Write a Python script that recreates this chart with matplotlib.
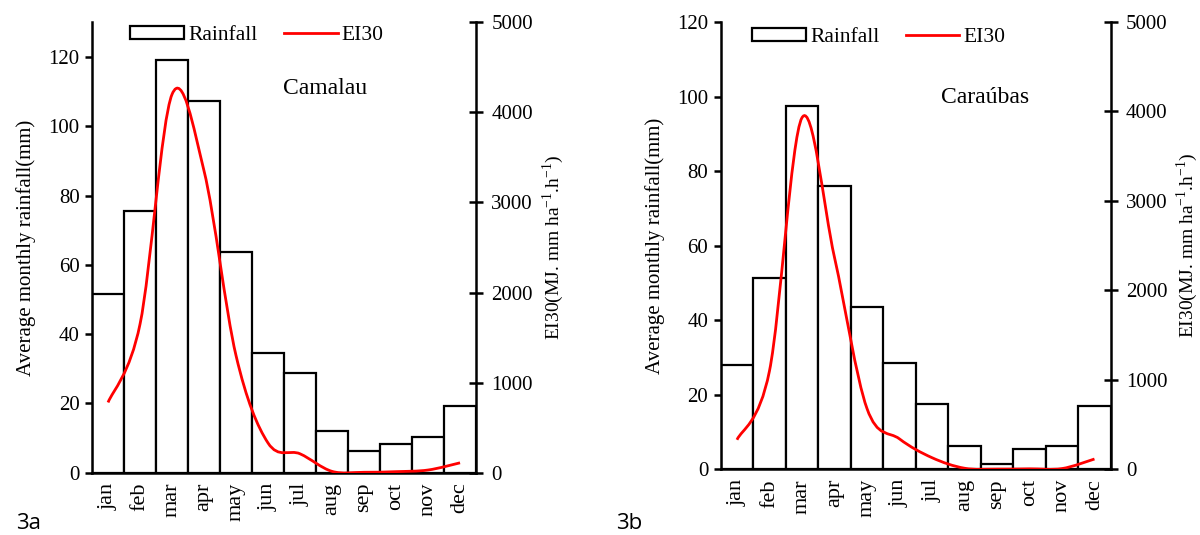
import numpy as np
import matplotlib.pyplot as plt
from matplotlib.path import Path
from matplotlib.patches import PathPatch, Patch
from matplotlib.lines import Line2D

plt.rcParams['font.family'] = ['Liberation Serif', 'DejaVu Serif']
plt.rcParams['mathtext.fontset'] = 'custom'
plt.rcParams['mathtext.rm'] = 'Liberation Serif'

months = ['jan', 'feb', 'mar', 'apr', 'may', 'jun',
          'jul', 'aug', 'sep', 'oct', 'nov', 'dec']

camalau_rain = [51.7, 75.6, 119.2, 107.2, 63.6, 34.5, 28.9, 12.0, 6.3, 8.3, 10.3, 19.4]
camalau_ei30 = [780, 1650, 4200, 3350, 1300, 330, 210, 15, 5, 12, 30, 110]

caraubas_rain = [28.1, 51.4, 97.6, 75.9, 43.6, 28.4, 17.5, 6.3, 1.5, 5.5, 6.2, 17.1]
caraubas_ei30 = [330, 1100, 3930, 2370, 680, 340, 130, 12, 2, 5, 8, 115]

rain_ticks = [0, 20, 40, 60, 80, 100, 120]
ei_ticks = [0, 1000, 2000, 3000, 4000, 5000]


def smooth_path(xs, ys):
    # excel-style smoothed line: cubic bezier through every point
    xs = np.asarray(xs, float)
    ys = np.asarray(ys, float)
    px = np.concatenate([[xs[0]], xs, [xs[-1]]])
    py = np.concatenate([[ys[0]], ys, [ys[-1]]])
    verts = [(xs[0], ys[0])]
    codes = [Path.MOVETO]
    for i in range(1, len(xs)):
        j = i + 1
        c1 = (px[j - 1] + (px[j] - px[j - 2]) / 6, py[j - 1] + (py[j] - py[j - 2]) / 6)
        c2 = (px[j] - (px[j + 1] - px[j - 1]) / 6, py[j] - (py[j + 1] - py[j - 1]) / 6)
        verts += [c1, c2, (px[j], py[j])]
        codes += [Path.CURVE4] * 3
    return Path(verts, codes)


def panel(rect, rain, ei30, rain_top, station, st_pos, leg_pos, tag, tag_x):
    ax = fig.add_axes(rect)
    x = np.arange(len(months))
    ax.bar(x, rain, width=1.0, facecolor='white', edgecolor='black', linewidth=1.6)
    ax.set_xlim(-0.5, len(months) - 0.5)
    ax.set_ylim(0, rain_top)
    ax.set_yticks(rain_ticks)
    ax.set_xticks(x)
    ax.set_xticklabels(months, rotation=90, fontsize=16)
    ax.tick_params(axis='x', length=0, pad=7)
    ax.tick_params(axis='y', direction='out', length=5, width=1.8, labelsize=15, pad=4)
    ax.set_ylabel('Average monthly rainfall(mm)', fontsize=15, labelpad=9)
    for s in ['top', 'right']:
        ax.spines[s].set_visible(False)
    for s in ['left', 'bottom']:
        ax.spines[s].set_linewidth(1.8)

    ax2 = ax.twinx()
    ax2.set_ylim(0, 5000)
    ax2.set_yticks(ei_ticks)
    ax2.add_patch(PathPatch(smooth_path(x, ei30), facecolor='none',
                            edgecolor='red', linewidth=2.0))
    ax2.tick_params(axis='y', direction='inout', length=10, width=1.8, labelsize=15, pad=6)
    for s in ['top', 'left', 'bottom']:
        ax2.spines[s].set_visible(False)
    ax2.spines['right'].set_linewidth(1.8)
    ax2.set_ylabel(r'EI30(MJ. mm ha$^{\mathregular{-1}}$.h$^{\mathregular{-1}}$)',
                   fontsize=14, labelpad=5)

    ax.text(st_pos[0], st_pos[1], station, transform=ax.transAxes,
            ha='center', va='center', fontsize=17)

    handles = [Patch(facecolor='white', edgecolor='black', linewidth=1.6),
               Line2D([], [], color='red', linewidth=2.0)]
    ax2.legend(handles, ['Rainfall', 'EI30'], loc='center', bbox_to_anchor=leg_pos,
               ncol=2, frameon=False, fontsize=15.5, handlelength=2.5,
               handleheight=0.55, handletextpad=0.2, columnspacing=1.2)

    fig.text(tag_x, 0.002, tag, ha='left', va='bottom', fontsize=16,
             family=['Open Sans', 'DejaVu Sans'])
    return ax, ax2


fig = plt.figure(figsize=(12, 5.35), dpi=100)

panel([0.0767, 0.1164, 0.32, 0.842], camalau_rain, camalau_ei30, 130,
      'Camalau', (0.607, 0.853), (0.43, 0.971), '3a', 0.013)
panel([0.6006, 0.1228, 0.325, 0.836], caraubas_rain, caraubas_ei30, 120,
      'Caraúbas', (0.678, 0.832), (0.406, 0.965), '3b', 0.513)

fig.savefig('out.png', dpi=100)
